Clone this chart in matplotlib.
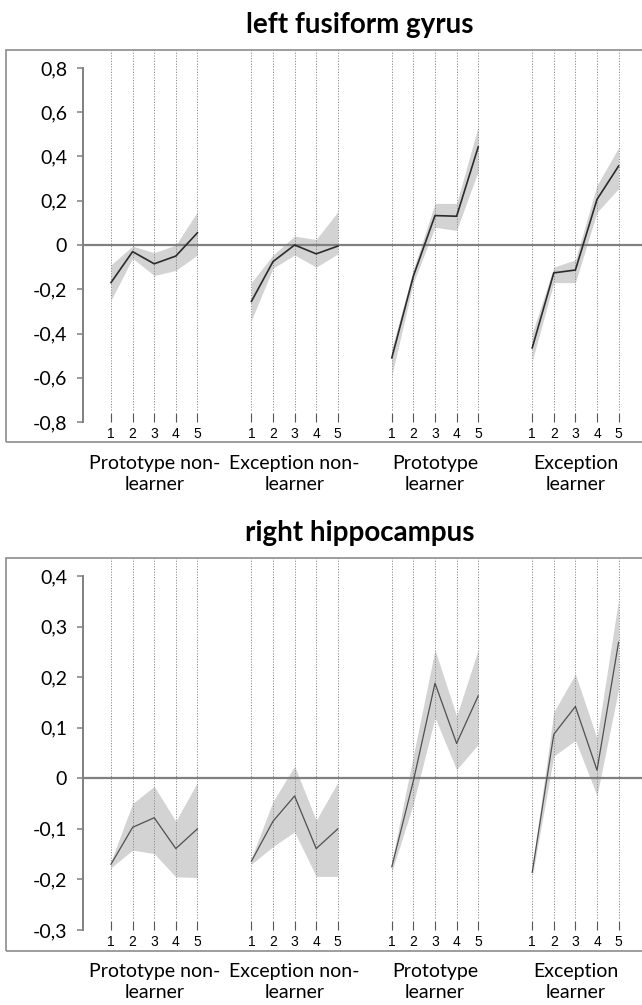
"""Session-wise activation curves (mean with band) for two ROIs, four learner groups."""
import matplotlib
matplotlib.use("Agg")
import matplotlib.pyplot as plt
from matplotlib.patches import Rectangle
from matplotlib.ticker import FixedLocator, FuncFormatter
import numpy as np

GROUPS = ["Prototype non-\nlearner", "Exception non-\nlearner", "Prototype\nlearner", "Exception\nlearner"]
SESSIONS = ["1", "2", "3", "4", "5"]

# left fusiform gyrus: mean and band edges, one row per group
FUS_MEAN = [
    [-0.17, -0.03, -0.085, -0.05, 0.055],
    [-0.255, -0.075, 0.0, -0.04, -0.005],
    [-0.51, -0.14, 0.133, 0.13, 0.443],
    [-0.465, -0.126, -0.113, 0.206, 0.357],
]
FUS_UPPER = [
    [-0.09, -0.005, -0.035, 0.0, 0.15],
    [-0.17, -0.045, 0.04, 0.025, 0.15],
    [-0.47, -0.11, 0.188, 0.188, 0.535],
    [-0.40, -0.10, -0.067, 0.27, 0.44],
]
FUS_LOWER = [
    [-0.25, -0.06, -0.138, -0.115, -0.045],
    [-0.34, -0.105, -0.045, -0.10, -0.04],
    [-0.59, -0.17, 0.08, 0.066, 0.334],
    [-0.525, -0.17, -0.17, 0.148, 0.255],
]

# right hippocampus
HIP_MEAN = [
    [-0.17, -0.097, -0.078, -0.139, -0.10],
    [-0.164, -0.085, -0.035, -0.139, -0.10],
    [-0.175, -0.005, 0.188, 0.069, 0.163],
    [-0.186, 0.087, 0.142, 0.016, 0.269],
]
HIP_UPPER = [
    [-0.164, -0.05, -0.016, -0.085, -0.008],
    [-0.158, -0.046, 0.024, -0.083, -0.008],
    [-0.165, 0.045, 0.254, 0.123, 0.254],
    [-0.178, 0.131, 0.206, 0.079, 0.354],
]
HIP_LOWER = [
    [-0.177, -0.142, -0.149, -0.195, -0.196],
    [-0.17, -0.135, -0.106, -0.194, -0.194],
    [-0.185, -0.05, 0.12, 0.017, 0.067],
    [-0.195, 0.044, 0.075, -0.034, 0.176],
]

FUS_TICKS = [-0.8, -0.6, -0.4, -0.2, 0.0, 0.2, 0.4, 0.6, 0.8]
HIP_TICKS = [-0.3, -0.2, -0.1, 0.0, 0.1, 0.2, 0.3, 0.4]

W, H = 642, 1005
GROUP_STEP = 6.5
GRAY = "#808080"
BAND = "#d3d3d3"
TEXT_FONT = ["Lato", "DejaVu Sans"]
NUM_FONT = ["Liberation Sans", "DejaVu Sans"]


def _comma(v, _):
    if abs(v) < 1e-9:
        return "0"
    return f"{v:.1f}".replace(".", ",")


def panel(fig, rect_px, box_px, title, title_y, mean, upper, lower, ticks, line_color, line_w):
    left, top, right, bottom = rect_px
    ax = fig.add_axes([left / W, 1 - bottom / H, (right - left) / W, (bottom - top) / H])

    # border around the whole panel
    bx0, by0, bx1, by1 = box_px
    fig.patches.append(Rectangle((bx0 / W, 1 - by1 / H), (bx1 - bx0) / W, (by1 - by0) / H,
                                 transform=fig.transFigure, fill=False,
                                 edgecolor="#8c8c8c", linewidth=1.2))
    fig.text(360 / W, 1 - title_y / H, title, ha="center", va="center",
             fontsize=20, fontweight="bold", family=TEXT_FONT)

    xs_all = []
    for g in range(len(GROUPS)):
        xs = np.arange(len(SESSIONS)) + GROUP_STEP * g
        xs_all.extend(xs)
        ax.fill_between(xs, lower[g], upper[g], color=BAND, linewidth=0, zorder=1)
        ax.plot(xs, mean[g], color=line_color, linewidth=line_w, zorder=4)
        ax.annotate(GROUPS[g], xy=(xs[2], 0), xycoords=("data", "axes fraction"),
                    xytext=(0, -23.5), textcoords="offset points",
                    ha="center", va="top", fontsize=14, family=TEXT_FONT,
                    linespacing=1.3, annotation_clip=False)

    xs_all = np.array(xs_all)
    ax.vlines(xs_all, 0.032, 1.0, transform=ax.get_xaxis_transform(),
              colors="#8a8a8a", linestyles=(0, (1.2, 1.6)), linewidth=0.7, zorder=2)
    ax.axhline(0, color=GRAY, linewidth=1.6, zorder=3)

    step_px = 21.6
    x0 = -(111 - left) / step_px
    x1 = x0 + (right - left) / step_px
    ax.set_xlim(x0, x1)
    lo, hi = ticks[0], ticks[-1]
    span_px = bottom - top
    y_top_px = bottom - (top + 18)  # pixel height from lowest to highest tick
    per_px = (hi - lo) / y_top_px
    ax.set_ylim(lo, lo + span_px * per_px)

    for s in ["top", "right", "bottom"]:
        ax.spines[s].set_visible(False)
    ax.spines["left"].set_bounds(lo, hi)
    ax.spines["left"].set_color(GRAY)
    ax.spines["left"].set_linewidth(1.4)

    ax.yaxis.set_major_locator(FixedLocator(ticks))
    ax.yaxis.set_major_formatter(FuncFormatter(_comma))
    ax.tick_params(axis="y", direction="out", length=4.5, width=1.1, color=GRAY,
                   pad=7, labelsize=14)
    for lab in ax.get_yticklabels():
        lab.set_family(TEXT_FONT)

    ax.set_xticks(xs_all)
    ax.set_xticklabels(SESSIONS * len(GROUPS))
    ax.tick_params(axis="x", direction="in", length=6.5, width=0.8, color="#555555",
                   pad=3.5, labelsize=10)
    for lab in ax.get_xticklabels():
        lab.set_family(NUM_FONT)
    ax.patch.set_visible(False)
    return ax


fig = plt.figure(figsize=(W / 100, H / 100), dpi=100)
fig.patch.set_facecolor("white")

panel(fig, (83, 50, 642, 422), (6, 50, 644, 442), "left fusiform gyrus", 25,
      FUS_MEAN, FUS_UPPER, FUS_LOWER, FUS_TICKS, "#2b2b2b", 1.2)
panel(fig, (83, 558, 642, 930), (6, 558, 644, 951), "right hippocampus", 533,
      HIP_MEAN, HIP_UPPER, HIP_LOWER, HIP_TICKS, "#505050", 0.9)

fig.savefig("out.png", dpi=100)
